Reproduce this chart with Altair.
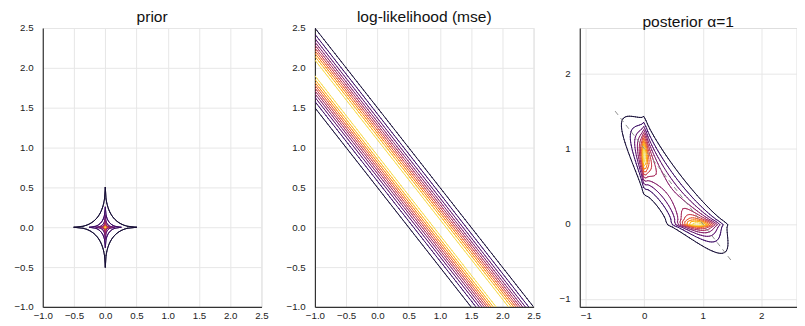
import numpy as np
import pandas as pd
import altair as alt

# ---- values ----
titles = ["prior", "log-likelihood (mse)", "posterior α=1"]
prior_exponent = 0.5          # star shaped prior: exp(-rate * (|x|^p + |y|^p))
prior_rate = 3.39
line_target = 1.0             # likelihood ridge along x + y = 1
lik_precision = 9.6           # exp(-precision * (x + y - 1)^2)
alpha = 1.0
n_lines = 10                  # contour lines per panel (levels k/11, k=1..10)

prior_grid_step = 0.0125      # fine grid through the origin
post_grid_points = 100        # coarse grid for the posterior
grid_range = [-1.0, 2.5]
dom_12 = [-1.0, 2.5]
dom_3 = [-1.105, 2.605]
ticks_12 = [-1.0, -0.5, 0.0, 0.5, 1.0, 1.5, 2.0, 2.5]
ticks_3 = [-1, 0, 1, 2]
dash_x = [-0.5, 1.5]
dash_y = [1.5, -0.5]


def prior_f(X, Y):
    return np.exp(-prior_rate * (np.abs(X) ** prior_exponent + np.abs(Y) ** prior_exponent))


def lik_f(X, Y):
    return np.exp(-lik_precision * (X + Y - line_target) ** 2)


def contour_segments(xs, ys, Z, level):
    z00 = Z[:-1, :-1]; z10 = Z[:-1, 1:]; z01 = Z[1:, :-1]; z11 = Z[1:, 1:]
    shape = z00.shape
    X0 = np.broadcast_to(xs[:-1][None, :], shape); X1 = np.broadcast_to(xs[1:][None, :], shape)
    Y0 = np.broadcast_to(ys[:-1][:, None], shape); Y1 = np.broadcast_to(ys[1:][:, None], shape)

    def cross(a, b):
        return (a > level) != (b > level)

    def frac(a, b):
        d = b - a
        d = np.where(d == 0, 1.0, d)
        return (level - a) / d

    t = frac(z00, z10); bx = X0 + t * (X1 - X0); by = Y0
    t = frac(z10, z11); rx = X1; ry = Y0 + t * (Y1 - Y0)
    t = frac(z01, z11); tx = X0 + t * (X1 - X0); ty = Y1
    t = frac(z00, z01); lx = X0; ly = Y0 + t * (Y1 - Y0)
    C = np.stack([cross(z00, z10), cross(z10, z11), cross(z01, z11), cross(z00, z01)])
    PX = np.stack([bx, rx, tx, lx]); PY = np.stack([by, ry, ty, ly])
    n = C.sum(0)
    out = []
    m2 = n == 2
    if m2.any():
        order = np.argsort(~C, axis=0, kind="stable")
        i1 = order[0][m2]; i2 = order[1][m2]
        px = PX[:, m2]; py = PY[:, m2]
        ar = np.arange(px.shape[1])
        out.append(np.stack([px[i1, ar], py[i1, ar], px[i2, ar], py[i2, ar]], 1))
    m4 = n == 4
    if m4.any():
        center = ((z00 + z10 + z01 + z11) / 4 > level)[m4]
        a00 = (z00 > level)[m4]
        px = PX[:, m4]; py = PY[:, m4]
        same = a00 == center
        for (pa, pb) in zip([(0, 1), (2, 3)], [(0, 3), (1, 2)]):
            e1 = np.where(same, pa[0], pb[0]); e2 = np.where(same, pa[1], pb[1])
            ar = np.arange(px.shape[1])
            out.append(np.stack([px[e1, ar], py[e1, ar], px[e2, ar], py[e2, ar]], 1))
    if not out:
        return np.zeros((0, 4))
    return np.concatenate(out)


def contour_frame(func, xs):
    ys = xs
    X, Y = np.meshgrid(xs, ys)
    Z = func(X, Y)
    zmin, zmax = Z.min(), Z.max()
    rows = []
    for k in range(1, n_lines + 1):
        v = k / (n_lines + 1)
        lev = zmin + (zmax - zmin) * v
        s = contour_segments(xs, ys, Z, lev)
        if len(s):
            d = pd.DataFrame(np.round(s, 4), columns=["x", "y", "x2", "y2"])
            d["v"] = v
            rows.append(d)
    return pd.concat(rows, ignore_index=True)


fine = np.linspace(grid_range[0], grid_range[1],
                   int(round((grid_range[1] - grid_range[0]) / prior_grid_step)) + 1)
coarse = np.linspace(grid_range[0], grid_range[1], post_grid_points)

df_prior = contour_frame(prior_f, fine)
df_lik = contour_frame(lik_f, coarse)
df_post = contour_frame(lambda X, Y: prior_f(X, Y) * lik_f(X, Y) ** alpha, coarse)
df_dash = pd.DataFrame({"x": dash_x, "y": dash_y})

FONT = "Liberation Sans"


def axis(vals, fmt, orient):
    return alt.Axis(values=vals, format=fmt, title=None, grid=True, gridColor="#e6e6e6",
                    gridWidth=1, domainColor="#333333", domainWidth=1.2, ticks=False, tickSize=0,
                    labelFont=FONT, labelFontSize=10, labelColor="#222222",
                    labelPadding=10 if orient == "y" else 4,
                    labelFlush=False, labelOverlap=False)


color = alt.Color("v:Q", scale=alt.Scale(scheme="inferno", domain=[0, 1]), legend=None)


def panel(df, dom, vals, fmt, title, w, extra=None):
    base = alt.Chart(df).mark_rule(strokeWidth=1, strokeCap="round", clip=True).encode(
        x=alt.X("x:Q", scale=alt.Scale(domain=dom, nice=False, zero=False), axis=axis(vals, fmt, "x")),
        y=alt.Y("y:Q", scale=alt.Scale(domain=dom, nice=False, zero=False), axis=axis(vals, fmt, "y")),
        x2="x2:Q", y2="y2:Q", color=color,
    )
    ch = base
    if extra is not None:
        ch = alt.layer(base, extra)
    return ch.properties(width=w, height=287,
                         title=alt.TitleParams(title, font=FONT, fontSize=16, fontWeight="normal",
                                               color="#111111", anchor="middle", offset=-2))


dash = alt.Chart(df_dash).mark_line(color="#8c8c8c", strokeWidth=1, strokeDash=[5, 4], clip=True).encode(
    x="x:Q", y="y:Q")

p1 = panel(df_prior, dom_12, ticks_12, ".1f", titles[0], 225)
p2 = panel(df_lik, dom_12, ticks_12, ".1f", titles[1], 225)
p3 = panel(df_post, dom_3, ticks_3, "d", titles[2], 223, extra=dash)

chart = alt.hconcat(alt.hconcat(p1, p2, spacing=16), p3, spacing=17.5).properties(
    padding={"left": 4.8, "top": -4, "right": 0, "bottom": 0}
).configure_view(stroke=None).configure(background="white")

chart.save("out.html", embed_options={"renderer": "svg", "actions": False})
